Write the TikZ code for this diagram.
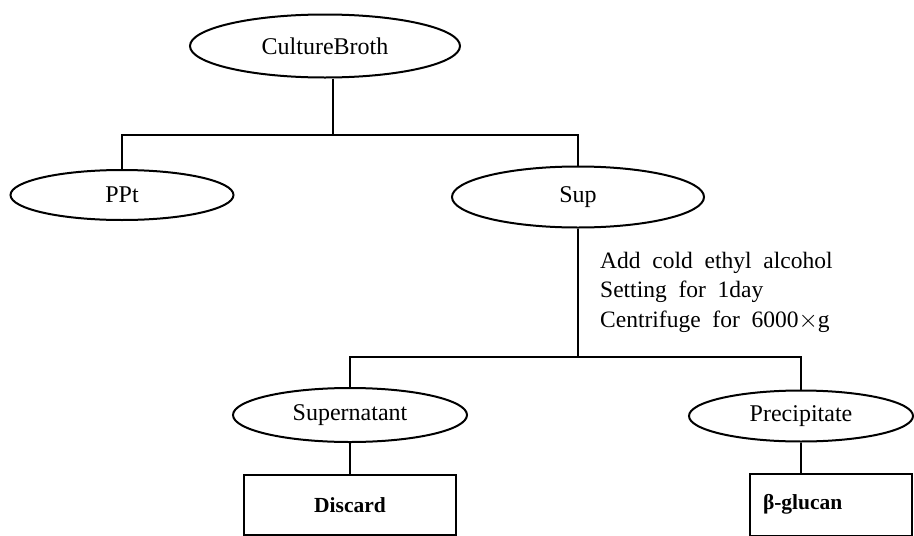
\documentclass[tikz,border=0pt]{standalone}
\usepackage{fontspec}
\setmainfont{Liberation Serif}[WordSpace=2]
\usetikzlibrary{positioning,shapes}
\tikzset{
  stage/.style={ellipse,draw,line width=2pt,inner sep=0pt,font=\fontsize{24}{28}\selectfont},
  result/.style={rectangle,draw,line width=2pt,inner sep=0pt,font=\fontsize{21.5}{25}\selectfont\bfseries},
  note/.style={inner sep=0pt,align=left,font=\fontsize{23.5}{29.5}\selectfont},
  link/.style={line width=2.2pt}
}
\begin{document}
\begin{tikzpicture}[x=1pt,y=-1pt]
\useasboundingbox (0,0) rectangle (914,536);
\node[stage,minimum width=270pt,minimum height=63pt] (broth) at (325,46) {CultureBroth};
\node[stage,minimum width=223pt,minimum height=50pt] (ppt) at (122,195) {PPt};
\node[stage,minimum width=252pt,minimum height=61pt] (sup) at (578,197) {Sup};
\node[stage,minimum width=234pt,minimum height=54pt] (supern) at (350,415) {Supernatant};
\node[stage,minimum width=224pt,minimum height=51pt] (precip) at (801,416) {Precipitate};
\node[result,minimum width=212pt,minimum height=60pt] (discard) at (350,505) {Discard};
\node[result,minimum height=62pt,inner xsep=13pt,text width=136pt,align=left] (glucan) at (831,504.5) {β-glucan};
\node[note,anchor=west] (cond) at (600,292) {Add cold ethyl alcohol\\Setting for 1day\\Centrifuge for 6000$\times$g};
\coordinate (split1) at (333,135);
\coordinate (split2) at (578,357);
\draw[link] (split1 |- broth.south) -- (split1);
\draw[link] (ppt.north) |- (split1) -| (sup.north);
\draw[link] (sup.south) -- (split2);
\draw[link] (supern.north) |- (split2) -| (precip.north);
\draw[link] (supern.south) -- (discard.north);
\draw[link] (precip.south) -- (precip.south |- glucan.north);
\end{tikzpicture}
\end{document}
